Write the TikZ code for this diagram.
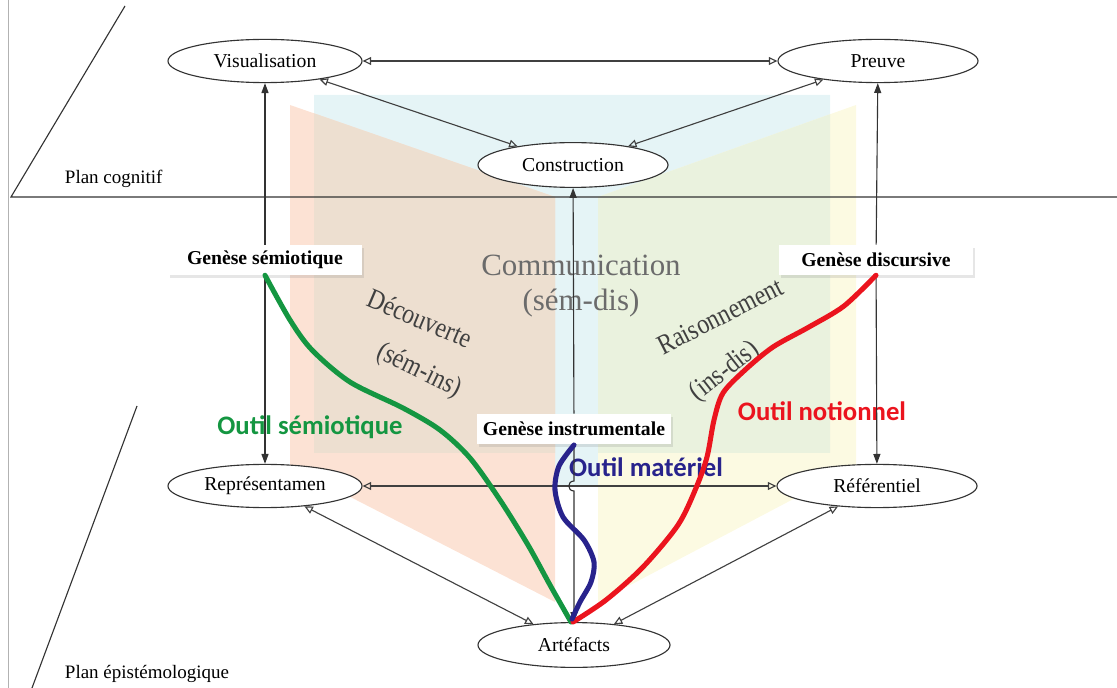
\documentclass[tikz,border=0pt]{standalone}
\usepackage{fontspec}
\setmainfont{Liberation Serif}
\newfontfamily\outilfont{Carlito}
\usetikzlibrary{arrows.meta, shapes.geometric, shadows}

\definecolor{pagecom}{RGB}{229,244,246}
\definecolor{pagesem}{RGB}{252,226,212}
\definecolor{pagedis}{RGB}{252,250,226}
\definecolor{pagesemcom}{RGB}{237,223,208}
\definecolor{pagediscom}{RGB}{234,242,222}
\definecolor{outilsem}{RGB}{20,150,65}
\definecolor{outilnot}{RGB}{235,20,30}
\definecolor{outilmat}{RGB}{40,35,140}

\tikzset{
    pole/.style={draw=black!80, ellipse, fill=white, line width=0.8pt, minimum width=4.85cm, minimum height=1.08cm, inner sep=0pt, font=\fontsize{14}{16}\selectfont},
    genese/.style={rectangle, fill=white, minimum width=4.85cm, minimum height=0.75cm, font=\fontsize{14}{16}\selectfont\bfseries, drop shadow={opacity=0.2, shadow xshift=1.5pt, shadow yshift=-2pt}},
    lien/.style={{Triangle[open, length=6pt, width=5.5pt]}-{Triangle[open, length=6pt, width=5.5pt]}, line width=0.8pt, draw=black!75},
    fleche/.style={-{Triangle[length=7pt, width=5pt]}, line width=0.8pt, draw=black!80},
    plan/.style={line width=0.8pt, draw=black!80},
    outil/.style={line width=3.6pt, line cap=round, line join=round},
    etiquette/.style={font=\outilfont\fontsize{19}{22}\selectfont\bfseries},
    genre/.style={text=black!75, inner sep=0pt, font=\fontsize{20}{22}\selectfont},
}

\begin{document}
\begin{tikzpicture}[x=0.025cm, y=-0.025cm]
    \useasboundingbox (0,0) rectangle (1117,688);

    % les trois pages du livre
    \fill [pagecom] (314,95) -- (830,95) -- (830,452) -- (598,452) -- (598,485) -- (553,485) -- (553,452) -- (314,452) -- cycle;
    \fill [pagesem] (290,105) -- (555,197) -- (555,602) -- (290,466) -- cycle;
    \fill [pagedis] (598,197) -- (856,105) -- (856,466) -- (598,602) -- cycle;
    \begin{scope}
        \clip (314,95) rectangle (830,452);
        \fill [pagesemcom] (290,105) -- (555,197) -- (555,602) -- (290,466) -- cycle;
        \fill [pagediscom] (598,197) -- (856,105) -- (856,466) -- (598,602) -- cycle;
    \end{scope}

    % plans
    \draw [black!30] (8,0) -- (8,688);
    \draw [plan] (125,6) -- (11,197) -- (1117,197);
    \draw [plan] (137,406) -- (32,688);
    \node (cognitif) [anchor=base west, font=\fontsize{13.5}{16}\selectfont] at (60,184) {Plan cognitif};
    \node (episte) [anchor=base west, font=\fontsize{13.5}{16}\selectfont] at (60,678) {Plan épistémologique};

    \node (communication) [align=center, text=black!58, font=\fontsize{22}{25}\selectfont] at (581,286) {Communication\\(sém-dis)};
    \node (decouverte) [genre, rotate=-23, xscale=0.85] at (420,318) {Découverte};
    \node (semins) [genre, rotate=-26, xscale=0.85] at (419,371) {(sém-ins)};
    \node (raisonnement) [genre, rotate=27, xscale=0.85] at (720,316) {Raisonnement};
    \node (insdis) [genre, rotate=38, xscale=0.85] at (725,372) {(ins-dis)};

    \node (lblsem) [etiquette, text=outilsem] at (310,427) {Outil sémiotique};
    \node (lblnot) [etiquette, text=outilnot] at (822,411) {Outil notionnel};
    \node (lblmat) [etiquette, text=outilmat] at (646,467) {Outil matériel};

    \node (vis) [pole] at (265,61) {Visualisation};
    \node (preuve) [pole, minimum width=5cm] at (878,61) {Preuve};
    \node (cons) [pole, minimum width=4.75cm, minimum height=1.12cm] at (573,165) {Construction};
    \node (rep) [pole] at (265,486) {Représentamen};
    \node (ref) [pole, minimum width=5cm] at (877,486) {Référentiel};
    \node (art) [pole, minimum width=4.8cm, minimum height=1.12cm] at (574,645) {Artéfacts};

    \node (gsem) [genese] at (265,260) {Genèse sémiotique};
    \node (gdis) [genese] at (876,260) {Genèse discursive};
    \node (ginst) [genese] at (574,429) {Genèse instrumentale};

    \draw [lien] (vis) -- (preuve);
    \draw [lien] (vis) -- (cons);
    \draw [lien] (preuve) -- (cons);
    \draw [lien] (rep) -- (ref);
    \draw [lien] (rep) -- (art);
    \draw [lien] (ref) -- (art);

    \draw [fleche] (gsem) -- (vis);
    \draw [fleche] (gsem) -- (rep);
    \draw [fleche] (gdis) -- (preuve);
    \draw [fleche] (gdis) -- (ref);
    \draw [fleche] (ginst) -- (cons);
    \draw [fleche] (ginst.south) -- (574,481) .. controls (567,481) and (567,491) .. (574,491) -- (art.north);

    \draw [outil, outilsem] plot [smooth] coordinates {(gsem.south) (290,320) (312,350) (350,382) (403,408) (440,430) (470,458) (500,500) (528,545) (550,585) (571,622)};
    \draw [outil, outilnot] plot [smooth] coordinates {(gdis.south) (844,306) (809,327) (773,347) (745,370) (723,393) (714,420) (707,457) (696,488) (678,525) (643,567) (606,600) (573,622)};
    \draw [outil, outilmat] plot [smooth] coordinates {(574,445) (559,466) (555,490) (563,517) (584,540) (594,562) (591,582) (580,602) (572,619)};
\end{tikzpicture}
\end{document}
